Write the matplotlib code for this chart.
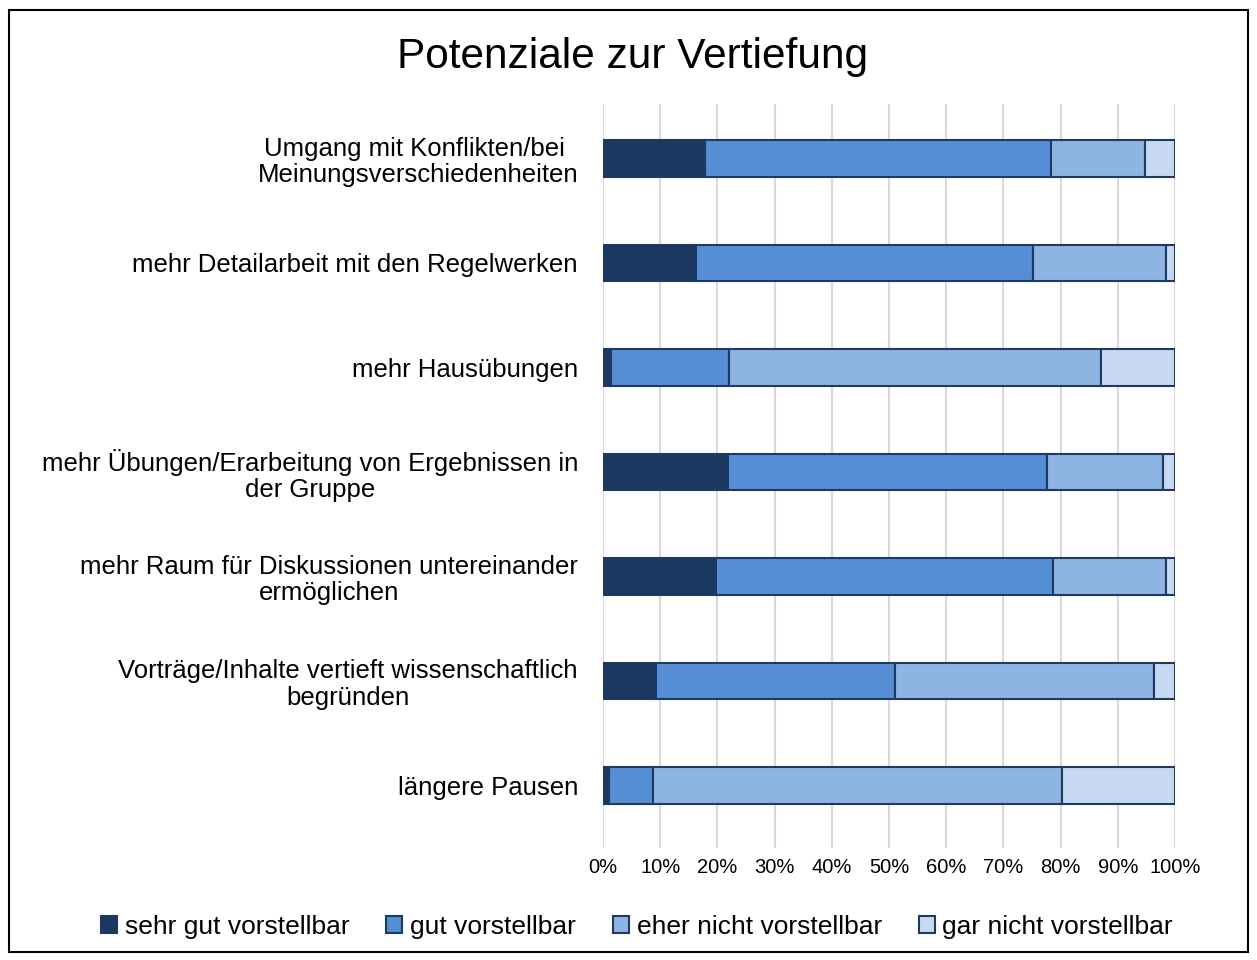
import matplotlib
matplotlib.use("Agg")
import matplotlib.pyplot as plt
from matplotlib.patches import Rectangle
import numpy as np

plt.rcParams['font.family'] = ['Liberation Sans', 'DejaVu Sans']

categories = [
    "Umgang mit Konflikten/bei \nMeinungsverschiedenheiten",
    "mehr Detailarbeit mit den Regelwerken",
    "mehr Hausübungen",
    "mehr Übungen/Erarbeitung von Ergebnissen in\nder Gruppe",
    "mehr Raum für Diskussionen untereinander\nermöglichen",
    "Vorträge/Inhalte vertieft wissenschaftlich\nbegründen",
    "längere Pausen",
]
series_names = ["sehr gut vorstellbar", "gut vorstellbar",
                "eher nicht vorstellbar", "gar nicht vorstellbar"]
sehr_gut = [17.8, 16.2, 1.4, 21.8, 19.7, 9.2, 1.0]
gut = [60.5, 58.9, 20.7, 55.8, 59.0, 41.8, 7.8]
eher_nicht = [16.5, 23.4, 64.9, 20.3, 19.8, 45.4, 71.4]
gar_nicht = [5.2, 1.5, 13.0, 2.1, 1.5, 3.6, 19.8]
tick_labels = ["0%", "10%", "20%", "30%", "40%", "50%", "60%", "70%", "80%", "90%", "100%"]

colors = ["#1B3960", "#558ED5", "#8EB4E3", "#C6D9F1"]
edge = "#1F3A60"

fig = plt.figure(figsize=(12.57, 9.6), dpi=100)
fig.patches.append(Rectangle((9/1257, 8/960), 1239/1257, 942/960, transform=fig.transFigure,
                             fill=False, edgecolor="black", linewidth=1.5, zorder=10))

ax = fig.add_axes([603/1257, 1 - 848/960, 572/1257, 744/960])
y = np.arange(len(categories))
left = np.zeros(len(categories))
for vals, name, c in zip([sehr_gut, gut, eher_nicht, gar_nicht], series_names, colors):
    vals = np.array(vals)
    ax.barh(y, vals, left=left, height=0.35, color=c, edgecolor=edge, linewidth=1.5,
            label=name, zorder=3)
    left += vals

ax.set_xlim(0, 100)
ax.set_ylim(6.6, -0.52)
ax.set_xticks(np.arange(0, 101, 10))
ax.set_xticklabels(tick_labels, fontsize=14.5)
ax.set_yticks(y)
ax.set_yticklabels(categories, fontsize=18.5, multialignment="center", linespacing=1.12)
ax.tick_params(axis="y", length=0, pad=18)
ax.tick_params(axis="x", length=0, pad=7)
ax.grid(axis="x", color="#D9D9D9", linewidth=1.5, zorder=0)
for s in ax.spines.values():
    s.set_visible(False)

fig.text(633/1257, 1 - 57/960, "Potenziale zur Vertiefung", fontsize=30.5,
         ha="center", va="center")

handles, labels = ax.get_legend_handles_labels()
fig.legend(handles, labels, loc="center", bbox_to_anchor=(637/1257, 1 - 927/960),
           ncol=4, frameon=False, fontsize=19, handlelength=0.6, handleheight=0.6,
           handletextpad=0.3, columnspacing=1.4)

fig.savefig("out.png", dpi=100)
